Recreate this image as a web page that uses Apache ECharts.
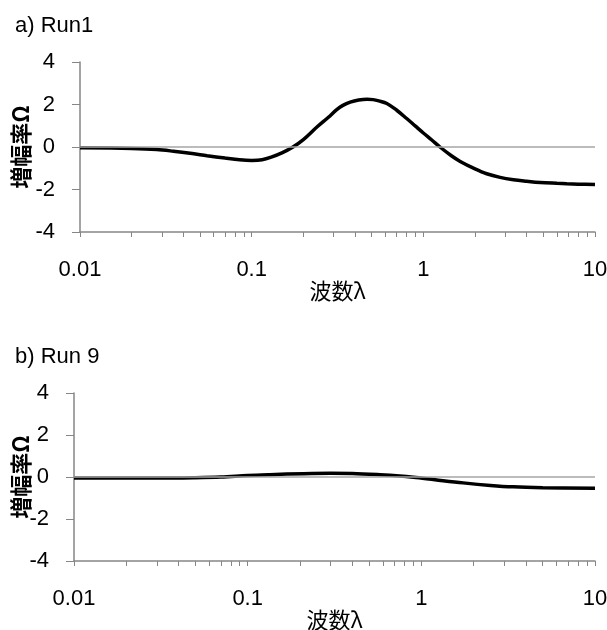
<!DOCTYPE html>
<html>
<head>
<meta charset="utf-8">
<script src="https://cdn.jsdelivr.net/npm/echarts@6/dist/echarts.min.js"></script>
<style>
html,body{margin:0;padding:0;background:#fff;}
#chart{width:607px;height:630px;}
</style>
</head>
<body>
<div id="chart"></div>
<script>
// Data
const lambdaRun1 = [0.01, 0.02, 0.028, 0.035, 0.045, 0.055, 0.07, 0.085, 0.1, 0.115, 0.13, 0.15, 0.174, 0.2, 0.24, 0.28, 0.313, 0.34, 0.375, 0.42, 0.47, 0.51, 0.55, 0.613, 0.7, 0.8, 0.9, 1.0, 1.12, 1.25, 1.45, 1.64, 2.0, 2.34, 2.8, 3.35, 4.0, 4.8, 6.0, 6.85, 8.0, 10];
const omegaRun1  = [-0.03, -0.07, -0.12, -0.2, -0.31, -0.41, -0.52, -0.6, -0.63, -0.6, -0.48, -0.28, 0.0, 0.35, 0.94, 1.4, 1.76, 1.96, 2.11, 2.21, 2.25, 2.23, 2.17, 2.05, 1.73, 1.34, 0.98, 0.66, 0.33, 0.0, -0.4, -0.68, -1.03, -1.26, -1.43, -1.54, -1.61, -1.67, -1.71, -1.73, -1.75, -1.77];
const lambdaRun9 = [0.01, 0.03, 0.05, 0.07, 0.1, 0.134, 0.21, 0.3, 0.4, 0.578, 0.75, 0.9, 1.2, 1.74, 2.5, 3.38, 5, 10];
const omegaRun9  = [-0.05, -0.05, -0.03, 0.0, 0.07, 0.11, 0.16, 0.18, 0.17, 0.11, 0.05, -0.01, -0.13, -0.28, -0.4, -0.47, -0.51, -0.54];
const yTicks = [-4, -2, 0, 2, 4];
const titles = ['a) Run1', 'b) Run 9'];
const xName = '波数λ';
const yName = '増幅率Ω';

const FONT = '"Liberation Sans", Arial, "Noto Sans CJK JP", sans-serif';
const CJK = '"Noto Sans CJK JP", "Liberation Sans", sans-serif';
const AXIS_COLOR = '#868686';

function xAx(gi) {
  return {
    type: 'log', logBase: 10, gridIndex: gi, min: 0.01, max: 10,
    name: xName, nameLocation: 'middle', nameGap: 48, nameMoveOverlap: false,
    nameTextStyle: {fontFamily: CJK, fontSize: 22, color: '#000'},
    axisLine: {show: true, onZero: false, lineStyle: {color: AXIS_COLOR, width: 1.5}},
    axisTick: {show: true, inside: false, length: 5, lineStyle: {color: AXIS_COLOR, width: 1}},
    minorTick: {show: true, splitNumber: 9, length: 5, lineStyle: {color: AXIS_COLOR, width: 1}},
    axisLabel: {margin: 27, fontFamily: FONT, fontSize: 22, color: '#000',
      formatter: v => String(+v)},
    splitLine: {show: false}
  };
}
function yAx(gi, gap) {
  return {
    type: 'value', gridIndex: gi, min: yTicks[0], max: yTicks[yTicks.length-1], interval: 2,
    name: yName, nameLocation: 'middle', nameGap: gap, nameRotate: 90, nameMoveOverlap: false,
    nameTextStyle: {fontFamily: CJK, fontSize: 22, fontWeight: 'bold', color: '#000'},
    axisLine: {show: true, lineStyle: {color: AXIS_COLOR, width: 1.5}},
    axisTick: {show: true, length: 8, lineStyle: {color: AXIS_COLOR, width: 1}},
    axisLabel: {margin: 25, fontFamily: FONT, fontSize: 22, color: '#000'},
    splitLine: {show: false}
  };
}
function zeroLine() {
  return {
    silent: true, symbol: 'none', label: {show: false},
    lineStyle: {color: '#a6a6a6', width: 1.5, type: 'solid'},
    data: [{yAxis: 0}]
  };
}

const chart = echarts.init(document.getElementById('chart'), null, {renderer: 'canvas'});
chart.setOption({
  animation: false,
  backgroundColor: '#fff',
  title: [
    {text: titles[0], left: 10, top: 10, textStyle: {fontFamily: FONT, fontSize: 22, fontWeight: 'normal', color: '#000'}},
    {text: titles[1], left: 10, top: 341, textStyle: {fontFamily: FONT, fontSize: 22, fontWeight: 'normal', color: '#000'}}
  ],
  grid: [
    {left: 80, top: 62, width: 515, height: 170, outerBoundsMode: 'none', containLabel: false},
    {left: 74, top: 393, width: 521, height: 168, outerBoundsMode: 'none', containLabel: false}
  ],
  xAxis: [xAx(0), xAx(1)],
  yAxis: [yAx(0, 48), yAx(1, 42)],
  series: [
    {type: 'line', xAxisIndex: 0, yAxisIndex: 0, smooth: 0.35, showSymbol: false,
     lineStyle: {color: '#000', width: 3.5}, data: lambdaRun1.map((x, i) => [x, omegaRun1[i]]),
     markLine: zeroLine()},
    {type: 'line', xAxisIndex: 1, yAxisIndex: 1, smooth: 0.35, showSymbol: false,
     lineStyle: {color: '#000', width: 3.5}, data: lambdaRun9.map((x, i) => [x, omegaRun9[i]]),
     markLine: zeroLine()}
  ]
});
</script>
</body>
</html>
